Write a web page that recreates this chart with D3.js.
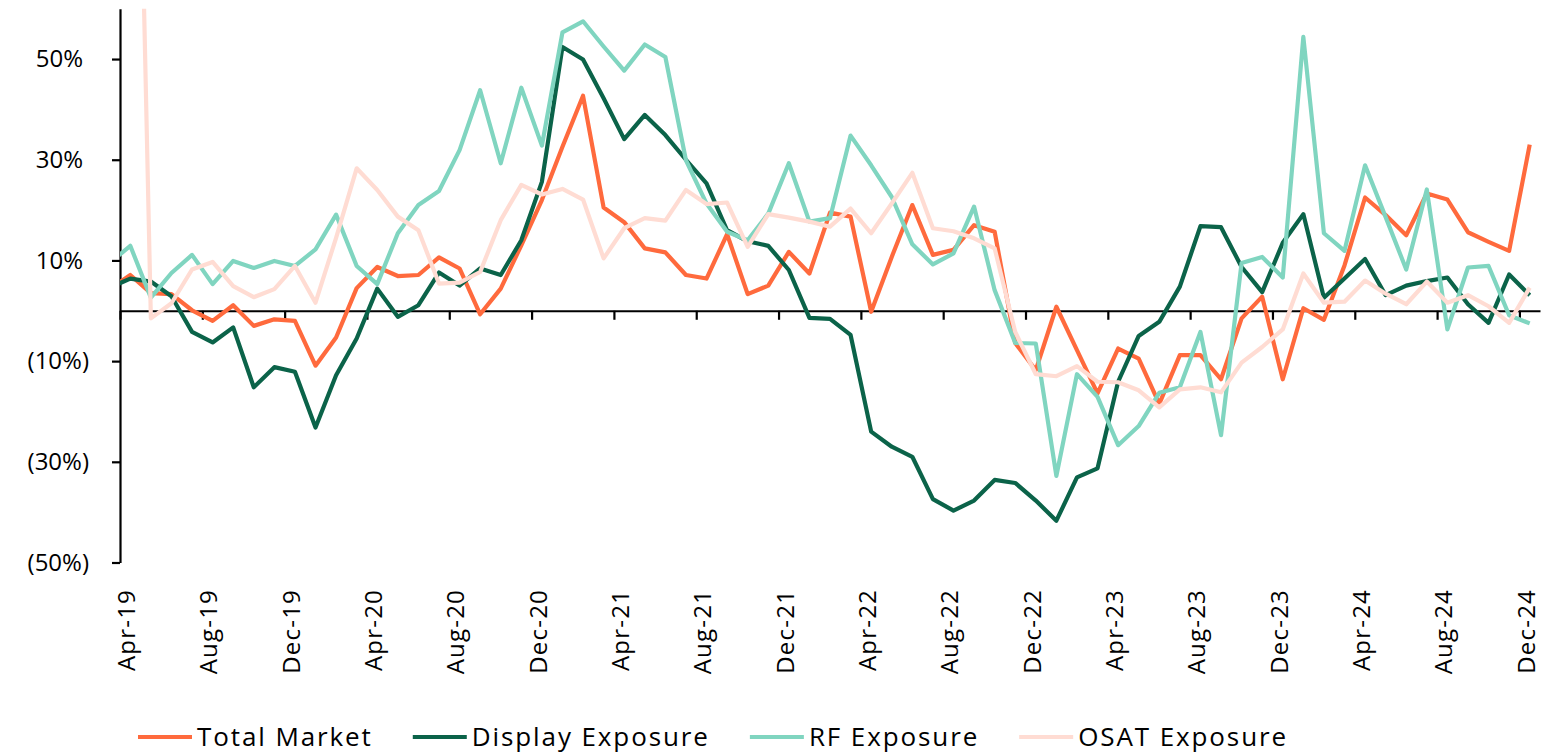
<!DOCTYPE html>
<html>
<head>
<meta charset="utf-8">
<script src="https://cdn.jsdelivr.net/npm/d3@7"></script>
<style>
  body { margin: 0; background: #fff; }
  svg text { font-family: "Open Sans", sans-serif; fill: #000; }
</style>
</head>
<body>
<div id="chart"></div>
<script>
// Chart size
var svgWidth = 1542;
var svgHeight = 753;

// Months (Mar-19 sits just left of the axis and is clipped)
var months = ["Mar-19",
  "Apr-19","May-19","Jun-19","Jul-19","Aug-19","Sep-19","Oct-19","Nov-19","Dec-19",
  "Jan-20","Feb-20","Mar-20","Apr-20","May-20","Jun-20","Jul-20","Aug-20","Sep-20","Oct-20","Nov-20","Dec-20",
  "Jan-21","Feb-21","Mar-21","Apr-21","May-21","Jun-21","Jul-21","Aug-21","Sep-21","Oct-21","Nov-21","Dec-21",
  "Jan-22","Feb-22","Mar-22","Apr-22","May-22","Jun-22","Jul-22","Aug-22","Sep-22","Oct-22","Nov-22","Dec-22",
  "Jan-23","Feb-23","Mar-23","Apr-23","May-23","Jun-23","Jul-23","Aug-23","Sep-23","Oct-23","Nov-23","Dec-23",
  "Jan-24","Feb-24","Mar-24","Apr-24","May-24","Jun-24","Jul-24","Aug-24","Sep-24","Oct-24","Nov-24","Dec-24"];

// Month labels shown on the axis
var tickLabels = ["Apr-19","Aug-19","Dec-19","Apr-20","Aug-20","Dec-20","Apr-21","Aug-21","Dec-21",
  "Apr-22","Aug-22","Dec-22","Apr-23","Aug-23","Dec-23","Apr-24","Aug-24","Dec-24"];

// Y axis ticks (%)
var yTicks = [50, 30, 10, -10, -30, -50];

// Series values (%), one per month
var totalMarket = [4.3,
  7.1, 3.5, 3.3, 0.1, -2.0, 1.1, -3.0, -1.7, -2.0,
  -10.9, -5.3, 4.5, 8.7, 6.9, 7.1, 10.6, 8.4, -0.7, 4.4, 13.0, 22.0,
  32.6, 42.7, 20.5, 17.6, 12.4, 11.6, 7.1, 6.4, 15.2, 3.3, 5.0, 11.7,
  7.4, 19.5, 18.7, -0.2, 10.7, 21.0, 11.1, 12.1, 17.0, 15.7, -6.4, -11.8,
  0.8, -7.8, -16.4, -7.5, -9.5, -18.5, -8.8, -8.8, -13.6, -1.5, 2.8, -13.6,
  0.5, -1.8, 9.0, 22.5, 19.0, 15.0, 23.3, 22.1, 15.6, 13.7, 11.9, 33.0];

var displayExposure = [4.6,
  6.4, 5.8, 2.9, -4.2, -6.3, -3.3, -15.2, -11.2, -12.1,
  -23.2, -12.8, -5.5, 4.4, -1.2, 1.1, 7.6, 5.0, 8.4, 7.1, 14.0, 25.6,
  52.4, 49.9, 42.2, 34.1, 38.9, 34.9, 30.0, 25.3, 16.0, 13.8, 12.9, 8.1,
  -1.4, -1.6, -4.8, -24.0, -27.0, -29.0, -37.4, -39.7, -37.7, -33.6, -34.2, -37.7,
  -41.7, -33.1, -31.3, -14.1, -5.0, -2.2, 4.8, 16.8, 16.6, 8.7, 3.7, 13.5,
  19.2, 2.6, 6.4, 10.3, 3.1, 5.0, 5.9, 6.6, 1.3, -2.4, 7.2, 3.1];

var rfExposure = [9.5,
  12.9, 2.6, 7.5, 11.1, 5.3, 9.9, 8.5, 9.9, 8.9,
  12.2, 19.1, 8.9, 5.3, 15.4, 21.0, 23.8, 31.9, 43.8, 29.3, 44.3, 32.8,
  55.3, 57.5, 52.5, 47.7, 52.9, 50.4, 29.9, 21.3, 15.7, 14.0, 19.3, 29.3,
  17.7, 18.4, 34.8, 28.9, 22.6, 13.2, 9.2, 11.4, 20.7, 4.1, -6.4, -6.5,
  -32.8, -12.6, -17.1, -26.7, -22.9, -16.3, -15.2, -4.2, -24.7, 9.5, 10.7, 6.6,
  54.4, 15.4, 11.9, 28.9, 18.6, 8.2, 24.1, -3.7, 8.6, 8.9, -0.9, -2.5];

var osatExposure = [null,
  185, -1.5, 1.5, 8.2, 9.7, 4.9, 2.7, 4.3, 8.9,
  1.6, 14.5, 28.3, 24.0, 18.7, 16.0, 5.4, 5.6, 7.7, 18.0, 25.0, 23.1,
  24.2, 22.1, 10.4, 16.4, 18.4, 17.9, 24.0, 21.2, 21.5, 12.7, 19.2, 18.5,
  17.7, 16.7, 20.3, 15.4, 21.3, 27.4, 16.4, 15.8, 14.4, 12.4, -4.2, -12.6,
  -13.0, -11.0, -14.1, -14.2, -15.8, -19.2, -15.6, -15.2, -16.2, -10.3, -7.2, -3.7,
  7.4, 1.6, 1.8, 6.0, 3.4, 1.3, 5.8, 1.6, 3.1, 0.9, -2.4, 4.6];

var seriesNames = ["Total Market", "Display Exposure", "RF Exposure", "OSAT Exposure"];
var seriesColors = ["#ff6a3d", "#0b6349", "#80d5c0", "#ffdcd3"];

var series = [totalMarket, displayExposure, rfExposure, osatExposure].map(function(vals, k) {
  return { name: seriesNames[k], color: seriesColors[k], values: vals };
});

// Create an SVG wrapper
var svg = d3.select("#chart").append("svg")
  .attr("width", svgWidth)
  .attr("height", svgHeight);

// Scales: categories sit between tick marks
var x = d3.scaleLinear().domain([0.5, months.length - 0.5]).range([120, 1540]);
var y = d3.scaleLinear().domain([-50, 60]).range([562.5, 8.7]);

// Clip lines to the plot area
svg.append("clipPath").attr("id", "plot-clip")
  .append("rect")
  .attr("x", x(0.5)).attr("y", y(60))
  .attr("width", x(months.length - 0.5) - x(0.5))
  .attr("height", y(-50) - y(60));

// Zero line with month tick marks
var tickIdx = tickLabels.map(function(m) { return months.indexOf(m) - 0.5; });
var xAxis = svg.append("g")
  .attr("transform", `translate(0, ${y(0)})`)
  .call(d3.axisBottom(x).tickValues(tickIdx).tickSize(9).tickSizeOuter(0).tickFormat(""));
xAxis.select(".domain").attr("stroke", "#000").attr("stroke-width", 2.2);
xAxis.selectAll(".tick line").attr("stroke", "#000").attr("stroke-width", 2.2);

// Rotated month labels under the plot
svg.append("g").selectAll("text")
  .data(tickLabels)
  .enter().append("text")
  .attr("transform", function(d) { return `translate(${x(months.indexOf(d))}, 589) rotate(-90)`; })
  .attr("text-anchor", "end")
  .attr("dy", "0.2em")
  .style("font-size", "24px")
  .style("letter-spacing", "1.2px")
  .text(function(d) { return d; });

// Y axis
var yAxis = svg.append("g")
  .attr("transform", `translate(${x(0.5)}, 0)`)
  .call(d3.axisLeft(y).tickValues(yTicks).tickSize(8).tickSizeOuter(0).tickPadding(23)
    .tickFormat(function(d) { return d < 0 ? `(${-d}%)` : `${d}%`; }));
yAxis.select(".domain").attr("stroke", "#000").attr("stroke-width", 2.2);
yAxis.selectAll(".tick line").attr("stroke", "#000").attr("stroke-width", 2.2);
yAxis.selectAll(".tick text")
  .style("font-size", "24px")
  .attr("dx", function(d) { return d < 0 ? 0 : -6; });

// Lines
var line = d3.line()
  .defined(function(d) { return d != null; })
  .x(function(d, i) { return x(i); })
  .y(function(d) { return y(d); });

svg.append("g").attr("clip-path", "url(#plot-clip)")
  .selectAll("path")
  .data(series)
  .enter().append("path")
  .attr("fill", "none")
  .attr("stroke", function(d) { return d.color; })
  .attr("stroke-width", 4.2)
  .attr("stroke-linejoin", "round")
  .attr("d", function(d) { return line(d.values); });

// Legend
var legend = svg.append("g").attr("transform", "translate(138, 737)");
var lx = 0;
series.forEach(function(s) {
  var item = legend.append("g").attr("transform", `translate(${lx}, 0)`);
  item.append("line")
    .attr("x1", 0).attr("x2", 54)
    .attr("stroke", s.color).attr("stroke-width", 4.2);
  var t = item.append("text")
    .attr("x", 59).attr("dy", "0.36em")
    .style("font-size", "26px")
    .style("letter-spacing", "1.9px")
    .text(s.name);
  lx += 59 + t.node().getComputedTextLength() + 40;
});
</script>
</body>
</html>
